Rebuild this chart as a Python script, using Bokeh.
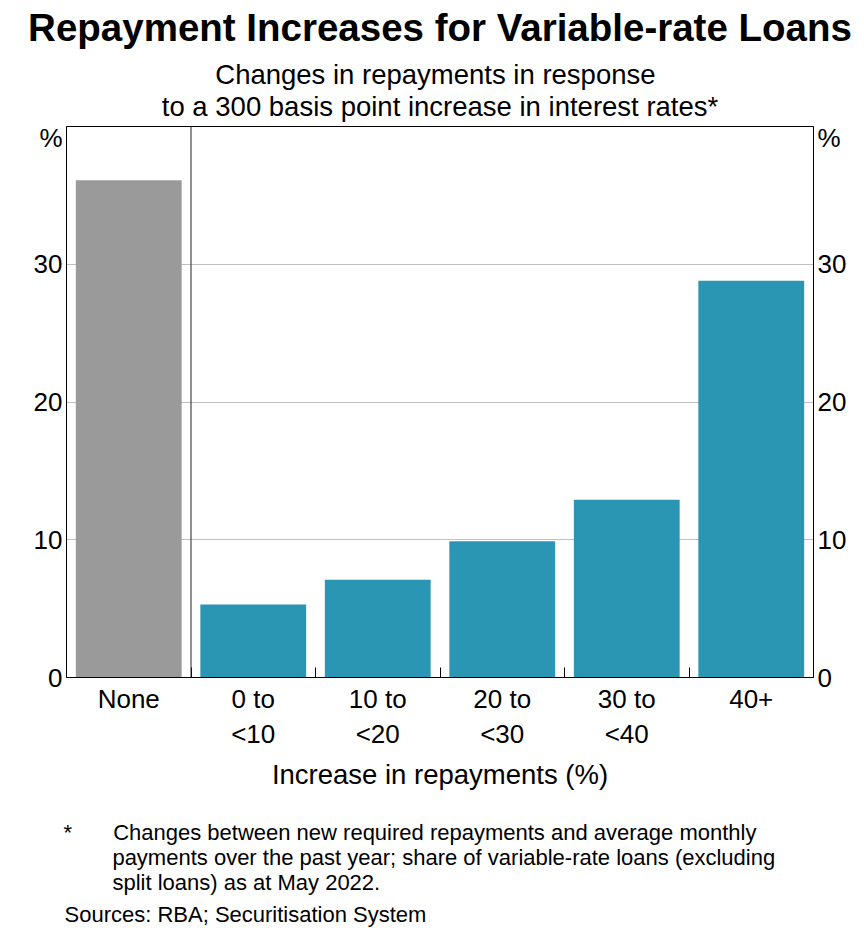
from bokeh.plotting import figure
from bokeh.models import (ColumnDataSource, Range1d, LinearAxis, FixedTicker,
                          Span, Title)
from bokeh.embed import file_html
from bokeh.resources import INLINE

# ---------------- data ----------------
categories = ["None", "0 to <10", "10 to <20", "20 to <30", "30 to <40", "40+"]
tick_labels = ["None", "0 to\n<10", "10 to\n<20", "20 to\n<30", "30 to\n<40", "40+"]
shares = [36.1, 5.3, 7.1, 9.9, 12.9, 28.8]
bar_colors = ["#9a9a9a", "#2a96b4", "#2a96b4", "#2a96b4", "#2a96b4", "#2a96b4"]
y_ticks = [0, 10, 20, 30]
y_unit = "%"

title_text = "Repayment Increases for Variable-rate Loans"
subtitle_lines = ["Changes in repayments in response",
                  "to a 300 basis point increase in interest rates*"]
x_title = "Increase in repayments (%)"
footnote_mark = "*"
footnote_lines = ["Changes between new required repayments and average monthly",
                  "payments over the past year; share of variable-rate loans (excluding",
                  "split loans) as at May 2022."]
sources_text = "Sources: RBA; Securitisation System"

FONT = "Liberation Sans"
W, H = 864, 941
FL, FR, FT, FB = 66, 813, 126, 677   # frame edges (page pixels)
NB = "\u00a0"
THIN = "\u2009"

X0, X1 = 0, len(categories)
unit_pos = 39.2

p = figure(width=W, height=H, output_backend="svg", toolbar_location=None,
           x_range=Range1d(X0, X1), y_range=Range1d(0, 40),
           min_border_left=FL, min_border_right=W - FR,
           min_border_top=FT, min_border_bottom=H - FB,
           background_fill_color="white", border_fill_color="white")
p.title.visible = False
p.outline_line_color = "black"
p.outline_line_width = 1

xs = [i + 0.5 for i in range(len(categories))]
src = ColumnDataSource(dict(x=xs, top=shares, color=bar_colors, cat=categories))
p.vbar(x="x", top="top", width=0.85, fill_color="color", line_color=None, source=src)

p.xgrid.visible = False
p.ygrid.ticker = FixedTicker(ticks=[10, 20, 30])
p.ygrid.grid_line_color = "#c0c0c0"
p.ygrid.grid_line_width = 1


def style_y(ax):
    ax.ticker = FixedTicker(ticks=y_ticks + [unit_pos])
    ax.major_label_overrides = {unit_pos: y_unit}
    ax.major_tick_out = 0
    ax.major_tick_in = 0
    ax.minor_tick_out = 0
    ax.minor_tick_in = 0
    ax.axis_line_color = "black"
    ax.major_label_text_font = FONT
    ax.major_label_text_font_size = "26px"
    ax.major_label_text_color = "black"
    ax.major_label_standoff = 4


style_y(p.yaxis[0])
ry = LinearAxis()
style_y(ry)
p.add_layout(ry, "right")

xa = p.xaxis[0]
xa.ticker = FixedTicker(ticks=xs, minor_ticks=[1, 2, 3, 4, 5])
xa.major_label_overrides = {x: t for x, t in zip(xs, tick_labels)}
xa.major_tick_in = 0
xa.major_tick_out = 0
xa.minor_tick_in = 10
xa.minor_tick_out = 0
xa.minor_tick_line_color = "black"
xa.axis_line_color = "black"
xa.major_label_text_font = FONT
xa.major_label_text_font_size = "26px"
xa.major_label_text_color = "black"
xa.major_label_text_line_height = 1.17
xa.major_label_standoff = 6
xa.axis_label = x_title
xa.axis_label_text_font = FONT
xa.axis_label_text_font_size = "27.5px"
xa.axis_label_text_font_style = "normal"
xa.axis_label_text_color = "black"
xa.axis_label_standoff = 7

p.add_layout(Span(location=1, dimension="height", line_color="#222222", line_width=1))


def add_title(txt, place, size, standoff, align="center", offset=0, bold=False,
              valign="bottom", line_height=1.0):
    p.add_layout(Title(text=txt, align=align, offset=offset, standoff=standoff,
                       vertical_align=valign, text_line_height=line_height,
                       text_font=FONT, text_font_size=size, text_color="black",
                       text_font_style="bold" if bold else "normal"), place)


# above: added from the frame outward (first subtitle line indented to sit centred)
add_title("\n".join([NB * 7 + subtitle_lines[0], subtitle_lines[1]]), "above", "27.5px",
          8.5, valign="bottom", line_height=1.028)
add_title(title_text, "above", "38.5px", 5, bold=True, valign="top")

# below: added from the axis outward
add_title(NB, "below", "1px", 24)   # spacer
fn_text = "\n".join([footnote_mark + NB * 6 + THIN + footnote_lines[0]] +
                    [NB * 8 + line for line in footnote_lines[1:]])
add_title(fn_text, "below", "22px", 0, align="left", offset=-3, valign="top",
          line_height=1.008)
add_title(sources_text, "below", "22px", 11.4, align="left", offset=-2, valign="top")

open("out.html", "w").write(file_html(p, INLINE))
